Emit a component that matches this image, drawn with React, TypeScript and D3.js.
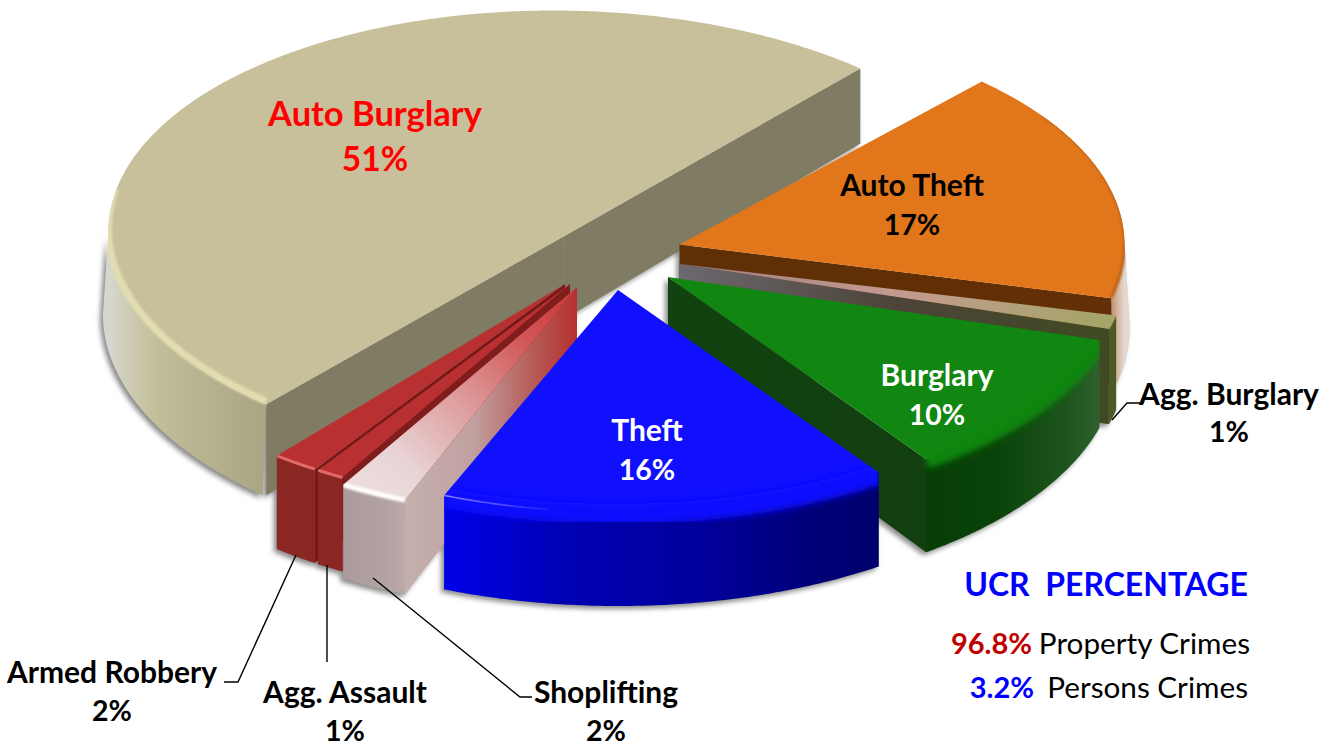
import React from "react";
import * as d3 from "d3";

// ---- data ----
const categories = ["Auto Burglary", "Auto Theft", "Agg. Burglary", "Burglary", "Theft", "Shoplifting", "Agg. Assault", "Armed Robbery"];
const percentages = [51, 17, 1, 10, 16, 2, 1, 2];
const summaryValues = ["96.8%", "3.2%"];
const summaryNames = ["Property Crimes", "Persons Crimes"];
const summaryTitle = "UCR\u00a0\u00a0PERCENTAGE";

// ---- layout (projection of each exploded wedge) ----
const apexX = [563.5, 679.5, 680, 668, 618, 577, 570, 565];
const apexY = [236.5, 244.5, 264, 277, 290, 287, 284, 284];
const radiusX = [455, 445, 448, 450, 458, 458, 458, 458];
const radiusY = [226, 222, 225, 222, 222, 230, 223, 221];
const skewX = [10, 0, 0, 0, 0, 0, 0, 0];
const angleShift = [1.8, 0.8, 0, 0.96, 2.2, 2.38, 2.2, 1.25];
const angleSpread = [0.98, 1, 1, 1.07, 0.99, 1.2, 1, 0.82];
const wallFlare = [1.012, 1.012, 1, 1, 1, 1, 1, 1];
const wallExtra = [0, 0, 8, 0, 0, 0, 0, 0];
const drawOrder = [0, 1, 2, 3, 7, 6, 5, 4];

const wallHeight = d3.scaleLinear().domain([70, 470]).range([75, 94]).clamp(true);

type Stop = [number, string];
type Rim = { color: string; width: number; dy: number; blur: number; from: number; to: number };
const topFill: (string | Stop[])[] = [
  "#c8c09a",
  "#e2761a",
  [[0, "#9a7f80"], [0.5, "#c49a90"], [1, "#a3a566"]],
  "#118611",
  "#1010ff",
  [[0, "#c93535"], [0.25, "#d25555"], [0.55, "#dd9a9a"], [0.85, "#e8d4d6"], [1, "#ecdcdc"]],
  "#b83030",
  "#b83030",
];
const radialWall: Stop[][] = [
  [[0, "#7f7c63"], [1, "#7f7c63"]],
  [[0, "#5f2f05"], [1, "#642f04"]],
  [[0, "#6d6870"], [0.5, "#4c4438"], [1, "#3f4a22"]],
  [[0, "#124210"], [1, "#123f10"]],
  [[0, "#00009c"], [1, "#00009c"]],
  [[0, "#b53030"], [0.25, "#b65a55"], [0.6, "#c1a0a0"], [1, "#c4b0ae"]],
  [[0, "#7f1c1c"], [1, "#7f1c1c"]],
  [[0, "#761818"], [1, "#761818"]],
];
const arcWall: Stop[][] = [
  [[0, "#d6d7d2"], [0.12, "#cfcdb6"], [0.3, "#c2be9a"], [1, "#a9a583"]],
  [[0, "#c4906a"], [0.5, "#d6b8a2"], [1, "#e2d8d2"]],
  [[0, "#4d5a28"], [1, "#4d5a28"]],
  [[0, "#063e06"], [0.4, "#0a430a"], [0.8, "#1c541c"], [1, "#2f602f"]],
  [[0, "#0000e8"], [0.25, "#0000b8"], [0.6, "#00009a"], [0.85, "#000078"], [1, "#00006c"]],
  [[0, "#ab9b9b"], [0.7, "#b2a2a2"], [1, "#bdaaaa"]],
  [[0, "#8a2723"], [1, "#8a2723"]],
  [[0, "#8a2723"], [1, "#8a2723"]],
];
const rims: Rim[] = [
  { color: "#e2ddb0", width: 7, dy: -3, blur: 1.2, from: 0, to: 0.33 },
  { color: "#b9651c", width: 3, dy: -1, blur: 0.8, from: 0.2, to: 1 },
  { color: "#9ea25f", width: 1, dy: 0, blur: 0.3, from: 0, to: 1 },
  { color: "#118611", width: 16, dy: 2, blur: 3, from: 0, to: 1 },
  { color: "#1010ff", width: 20, dy: 2, blur: 3, from: 0, to: 1 },
  { color: "#ffffff", width: 5, dy: 0, blur: 1, from: 0, to: 1 },
  { color: "#e06a68", width: 3, dy: 0, blur: 0.6, from: 0, to: 1 },
  { color: "#e06a68", width: 3, dy: 0, blur: 0.6, from: 0, to: 1 },
];

// ---- labels ----
const labelColor = ["#ff0000", "#000", "#000", "#fff", "#fff", "#000", "#000", "#000"];
const labelX = [375, 912, 1229, 937, 647, 606, 345, 112];
const labelY1 = [126, 196, 405, 386, 441, 703, 703, 683];
const labelY2 = [171, 235, 442, 425, 480, 741, 741, 721];
const nameSize = [34.5, 30, 30, 30, 30, 30, 30, 30];
const pctSize = [33.5, 28.5, 28.5, 28.5, 28.5, 28.5, 28.5, 28.5];
const leaders: { cat: string; pts: [number, number][] }[] = [
  { cat: "Agg. Burglary", pts: [[1112, 420], [1127, 403], [1140, 403]] },
  { cat: "Shoplifting", pts: [[373, 578], [520, 697], [532, 697]] },
  { cat: "Agg. Assault", pts: [[327, 565], [327, 662]] },
  { cat: "Armed Robbery", pts: [[296, 555], [238, 682], [224, 682]] },
];

const FONT = "Lato, 'Open Sans', sans-serif";
const rad = Math.PI / 180;
const pieGen = d3.pie<number>().sort(null).value((d) => d).startAngle(-141.6 * rad).endAngle(218.4 * rad);
const line = d3.line<[number, number]>();

function stopsOf(stops: Stop[]) {
  return stops.map(([o, c], i) => <stop key={i} offset={o} stopColor={c} />);
}

export default function App() {
  const arcs = pieGen(percentages);
  const slices = arcs.map((a, i) => {
    const a0 = a.startAngle / rad, a1 = a.endAngle / rad;
    const mid = (a0 + a1) / 2;
    const map = (t: number) => mid + (t - mid) * angleSpread[i] + angleShift[i];
    const point = (deg: number): [number, number] => {
      const c = Math.cos(deg * rad), s = Math.sin(deg * rad);
      return [apexX[i] + radiusX[i] * s - skewX[i] * c, apexY[i] - radiusY[i] * c];
    };
    const down = (p: [number, number]): [number, number] => [p[0], p[1] + wallHeight(p[1]) + wallExtra[i]];
    const flare = (p: [number, number]): [number, number] => {
      const q = down(p);
      return [apexX[i] + (q[0] - apexX[i]) * wallFlare[i], q[1]];
    };
    const t0 = map(a0), t1 = map(a1);
    const n = Math.max(8, Math.round((t1 - t0) * 2));
    const thetas = d3.range(n + 1).map((k) => t0 + ((t1 - t0) * k) / n);
    const arcPts = thetas.map(point);
    const apex: [number, number] = [apexX[i], apexY[i]];
    const topD = line([apex, ...arcPts]) + "Z";
    const lower = thetas.filter((t) => Math.cos(t * rad) <= 0.02).map(point);
    const wallD = lower.length > 1 ? line([...lower, ...lower.slice().reverse().map(flare)]) + "Z" : "";
    const midP = point((t0 + t1) / 2);
    const visible = (p: [number, number]) => {
      const slope = (p[1] - apex[1]) / (p[0] - apex[0]);
      return midP[1] < apex[1] + slope * (midP[0] - apex[0]);
    };
    const radials = [arcPts[0], arcPts[n]].filter(visible).map((p) => ({
      d: line([apex, p, down(p), down(apex)]) + "Z",
      end: p,
    }));
    const r = rims[i];
    const rimPts = arcPts
      .slice(Math.round(r.from * n), Math.round(r.to * n) + 1)
      .map((p): [number, number] => [p[0], p[1] + r.dy]);
    const xs = lower.map((p) => p[0]);
    return {
      i, apex, arcPts, topD, wallD, radials, midP,
      rimD: line(rimPts) as string,
      arcX: d3.extent(xs.length ? xs : [0, 1]) as [number, number],
      glint: i === 4 ? (line(arcPts.slice(Math.round(n * 0.76))) as string) : "",
    };
  });
  const ordered = drawOrder.map((k) => slices[k]);

  return (
    <svg width={1326} height={745} style={{ position: "absolute", left: 0, top: 0, display: "block", background: "#fff" }}>
      <defs>
        <filter id="shadow" x="-10%" y="-10%" width="120%" height="120%">
          <feGaussianBlur stdDeviation="2.4" />
        </filter>
        {[0.3, 0.6, 0.8, 1, 1.2, 3].map((b) => (
          <filter key={b} id={`b${String(b).replace(".", "_")}`} x="-20%" y="-20%" width="140%" height="140%">
            <feGaussianBlur stdDeviation={b} />
          </filter>
        ))}
        {slices.map((s) => {
          const tf = topFill[s.i];
          return (
            <React.Fragment key={s.i}>
              <clipPath id={`clip${s.i}`}>
                <path d={s.topD} />
                {s.wallD && <path d={s.wallD} />}
                {s.radials.map((w, k) => <path key={k} d={w.d} />)}
              </clipPath>
              {typeof tf !== "string" && (
                <linearGradient id={`top${s.i}`} gradientUnits="userSpaceOnUse" x1={s.apex[0]} y1={s.apex[1]} x2={s.midP[0]} y2={s.midP[1]}>
                  {stopsOf(tf)}
                </linearGradient>
              )}
              <linearGradient id={`arc${s.i}`} gradientUnits="userSpaceOnUse" x1={s.arcX[0]} y1={0} x2={s.arcX[1]} y2={0}>
                {stopsOf(arcWall[s.i])}
              </linearGradient>
              {s.radials.map((w, k) => (
                <linearGradient key={k} id={`rad${s.i}_${k}`} gradientUnits="userSpaceOnUse" x1={s.apex[0]} y1={0} x2={w.end[0]} y2={0}>
                  {stopsOf(radialWall[s.i])}
                </linearGradient>
              ))}
            </React.Fragment>
          );
        })}
        <linearGradient id="glintFade" gradientUnits="userSpaceOnUse" x1={445} y1={0} x2={565} y2={0}>
          <stop offset={0} stopColor="#7f7fff" />
          <stop offset={1} stopColor="#1010ff" />
        </linearGradient>
      </defs>

      {/* soft ground shadows */}
      <g filter="url(#shadow)" transform="translate(-3,3)" fill="#8b8b8b">
        {slices.map((s) => (
          <g key={s.i}>
            {s.wallD && <path d={s.wallD} />}
            {s.radials.map((w, k) => <path key={k} d={w.d} />)}
          </g>
        ))}
      </g>

      {ordered.map((s) => {
        const r = rims[s.i];
        const tf = topFill[s.i];
        return (
          <g key={s.i}>
            {s.radials.map((w, k) => <path key={k} d={w.d} fill={`url(#rad${s.i}_${k})`} />)}
            {s.wallD && <path d={s.wallD} fill={`url(#arc${s.i})`} />}
            <path d={s.topD} fill={typeof tf === "string" ? tf : `url(#top${s.i})`} />
            <g clipPath={`url(#clip${s.i})`}>
              <path d={s.rimD} fill="none" stroke={r.color} strokeWidth={r.width} filter={`url(#b${String(r.blur).replace(".", "_")})`} />
              {s.glint && <path d={s.glint} fill="none" stroke="url(#glintFade)" strokeWidth={1.6} />}
            </g>
          </g>
        );
      })}

      {/* leader lines */}
      {leaders.map((l) => (
        <path key={l.cat} d={line(l.pts) as string} fill="none" stroke="#000" strokeWidth={1.4} />
      ))}

      {/* slice labels */}
      <g fontFamily={FONT} fontWeight={700} textAnchor="middle">
        {categories.map((c, i) => (
          <g key={c} fill={labelColor[i]}>
            <text x={labelX[i]} y={labelY1[i]} fontSize={nameSize[i]}>{c}</text>
            <text x={labelX[i]} y={labelY2[i]} fontSize={pctSize[i]}>{percentages[i]}%</text>
          </g>
        ))}
      </g>

      {/* summary */}
      <g fontFamily={FONT}>
        <text x={1248} y={596} textAnchor="end" fontWeight={700} fontSize={32} fill="#0000ff">{summaryTitle}</text>
        <text x={1032} y={654} textAnchor="end" fontWeight={700} fontSize={29} fill="#c00000">{summaryValues[0]}</text>
        <text x={1250} y={654} textAnchor="end" fontSize={29.7} fill="#000">{summaryNames[0]}</text>
        <text x={1034} y={698} textAnchor="end" fontWeight={700} fontSize={29} fill="#0000ff">{summaryValues[1]}</text>
        <text x={1248} y={698} textAnchor="end" fontSize={29.7} fill="#000">{summaryNames[1]}</text>
      </g>
    </svg>
  );
}
